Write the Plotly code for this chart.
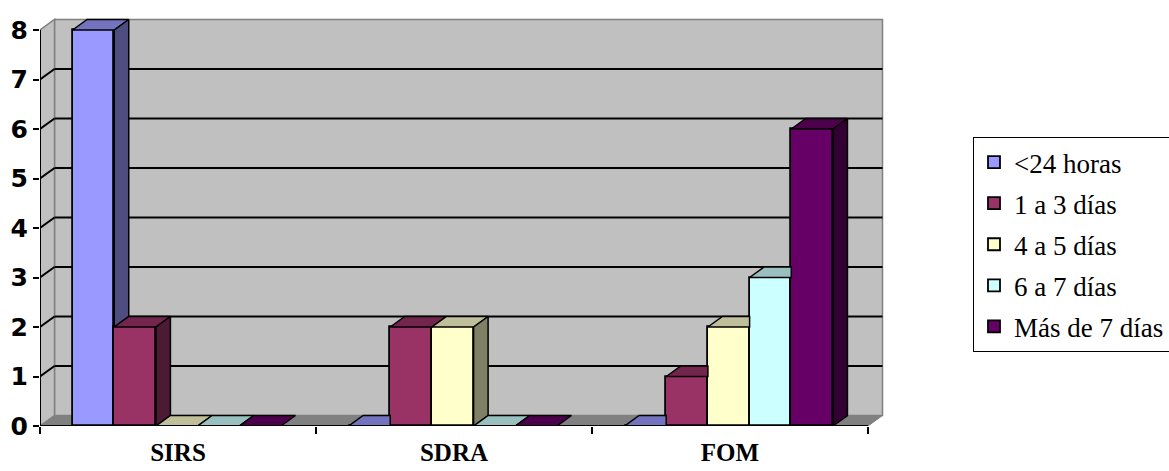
import plotly.graph_objects as go

# Data
categories = ["SIRS", "SDRA", "FOM"]
series_names = ["<24 horas", "1 a 3 días", "4 a 5 días", "6 a 7 días", "Más de 7 días"]
values = {
    "<24 horas":     [8, 0, 0],
    "1 a 3 días":    [2, 2, 1],
    "4 a 5 días":    [0, 2, 2],
    "6 a 7 días":    [0, 0, 3],
    "Más de 7 días": [0, 0, 6],
}
y_ticks = [0, 1, 2, 3, 4, 5, 6, 7, 8]

# Styling: front / top / side face colours for each series
front_colors = ["#9999FF", "#993366", "#FFFFCC", "#CCFFFF", "#660066"]
top_colors = ["#7373BF", "#73264D", "#BFBF99", "#99BFBF", "#4C004C"]
side_colors = ["#4D4D80", "#4D1A33", "#808066", "#668080", "#330033"]

# Geometry of the pseudo-3D layout (axis units)
PX_X = 276.0          # pixels per category
PX_Y = 49.5           # pixels per unit of value
DX = 14.5 / PX_X      # depth offset, horizontal
DY = 10.5 / PX_Y      # depth offset, vertical
GAP = 0.118           # space before first bar within a category
W = 0.151             # bar width
YMAX = 8

W_FIG, H_FIG = 1169, 471
M_L, M_R, M_T, M_B = 40, 285, 18, 45
plot_w = W_FIG - M_L - M_R
plot_h = H_FIG - M_T - M_B
x_range = [-0.5, -0.5 + plot_w / PX_X]
y_range = [0, plot_h / PX_Y]

fig = go.Figure()

n_cat = len(categories)
n_ser = len(series_names)

def bar_left(c, i):
    return c - 0.5 + GAP + i * W

# Front faces
for i, name in enumerate(series_names):
    xs = [c - 0.5 + GAP + (i + 0.5) * W for c in range(n_cat)]
    fig.add_trace(go.Bar(
        x=xs, y=values[name], width=W, name=name, legendgroup=f"g{i}",
        marker=dict(color=front_colors[i], line=dict(color="black", width=1.8)),
        hoverinfo="skip",
    ))

# Top and side faces, clipped where the next bar's front hides them
for i, name in enumerate(series_names):
    top_x, top_y, side_x, side_y = [], [], [], []
    for c in range(n_cat):
        h = values[name][c]
        x0 = bar_left(c, i)
        x1 = x0 + W
        hn = values[series_names[i + 1]][c] if i + 1 < n_ser else 0
        if i + 1 < n_ser and hn > h:
            top_x += [x0, x1, x1, x0 + DX, x0, None]
            top_y += [h, h, h + DY, h + DY, h, None]
        else:
            top_x += [x0, x1, x1 + DX, x0 + DX, x0, None]
            top_y += [h, h, h + DY, h + DY, h, None]
        if h > hn:
            side_x += [x1, x1 + DX, x1 + DX, x1, x1, None]
            side_y += [h, h + DY, hn + DY, hn, h, None]
    fig.add_trace(go.Scatter(
        x=top_x, y=top_y, mode="lines", fill="toself",
        fillcolor=top_colors[i], line=dict(color="black", width=1.5),
        showlegend=False, hoverinfo="skip",
    ))
    if side_x:
        fig.add_trace(go.Scatter(
            x=side_x, y=side_y, mode="lines", fill="toself",
            fillcolor=side_colors[i], line=dict(color="black", width=1.5),
            showlegend=False, hoverinfo="skip",
        ))

# Invisible trace carrying the category-boundary tick marks
fig.add_trace(go.Scatter(x=[-0.5, 2.5], y=[0, 0], xaxis="x2", mode="none",
                         showlegend=False, hoverinfo="skip"))

shapes = []
xl, xr = -0.5, n_cat - 0.5
# back wall
shapes.append(dict(type="path", layer="below",
                   path=f"M{xl+DX},{DY} L{xr+DX},{DY} L{xr+DX},{YMAX+DY} L{xl+DX},{YMAX+DY} Z",
                   fillcolor="#C0C0C0", line=dict(color="#808080", width=1.5)))
# side wall
shapes.append(dict(type="path", layer="below",
                   path=f"M{xl},0 L{xl+DX},{DY} L{xl+DX},{YMAX+DY} L{xl},{YMAX} Z",
                   fillcolor="#C0C0C0", line=dict(color="#808080", width=1.5)))
# floor
shapes.append(dict(type="path", layer="below",
                   path=f"M{xl},0 L{xr},0 L{xr+DX},{DY} L{xl+DX},{DY} Z",
                   fillcolor="#808080", line=dict(color="#808080", width=1)))
# gridlines on the back and side walls
for v in y_ticks[1:-1]:
    shapes.append(dict(type="line", layer="below", x0=xl + DX, x1=xr + DX, y0=v + DY, y1=v + DY,
                       line=dict(color="black", width=2)))
    shapes.append(dict(type="line", layer="below", x0=xl, x1=xl + DX, y0=v, y1=v + DY,
                       line=dict(color="black", width=2)))
# front axis lines
shapes.append(dict(type="line", x0=xl, x1=xl, y0=0, y1=YMAX, line=dict(color="black", width=2)))
shapes.append(dict(type="line", x0=xl, x1=xr, y0=0, y1=0, line=dict(color="black", width=2)))

fig.update_layout(
    width=W_FIG, height=H_FIG,
    margin=dict(l=M_L, r=M_R, t=M_T, b=M_B, autoexpand=False),
    paper_bgcolor="white", plot_bgcolor="white",
    barmode="overlay", bargap=0,
    shapes=shapes,
    showlegend=True,
    legend=dict(
        xref="container", yref="container",
        x=973 / W_FIG, y=1 - 137 / H_FIG,
        xanchor="left", yanchor="top",
        bgcolor="white", bordercolor="black", borderwidth=1,
        font=dict(family="Liberation Serif", size=27, color="black"),
        itemwidth=30, tracegroupgap=3,
        itemclick=False, itemdoubleclick=False,
    ),
    xaxis=dict(
        range=x_range, tickvals=list(range(n_cat)), ticktext=categories,
        ticks="", showgrid=False, zeroline=False, showline=False, automargin=False,
        tickfont=dict(family="Liberation Serif", size=25, color="black", weight="bold"),
        ticklabelstandoff=9, fixedrange=True,
    ),
    xaxis2=dict(
        range=x_range, overlaying="x", side="bottom",
        tickvals=[-0.5, 0.5, 1.5, 2.5], showticklabels=False,
        ticks="outside", ticklen=7, tickwidth=2, tickcolor="black", automargin=False,
        showgrid=False, zeroline=False, showline=False, fixedrange=True,
    ),
    yaxis=dict(
        range=y_range, tickvals=y_ticks,
        ticks="outside", ticklen=6, tickwidth=2, tickcolor="black",
        showgrid=False, zeroline=False, showline=False, automargin=False,
        tickfont=dict(family="DejaVu Sans", size=25, color="black", weight="bold"),
        fixedrange=True,
    ),
)

fig.write_html("out.html")
